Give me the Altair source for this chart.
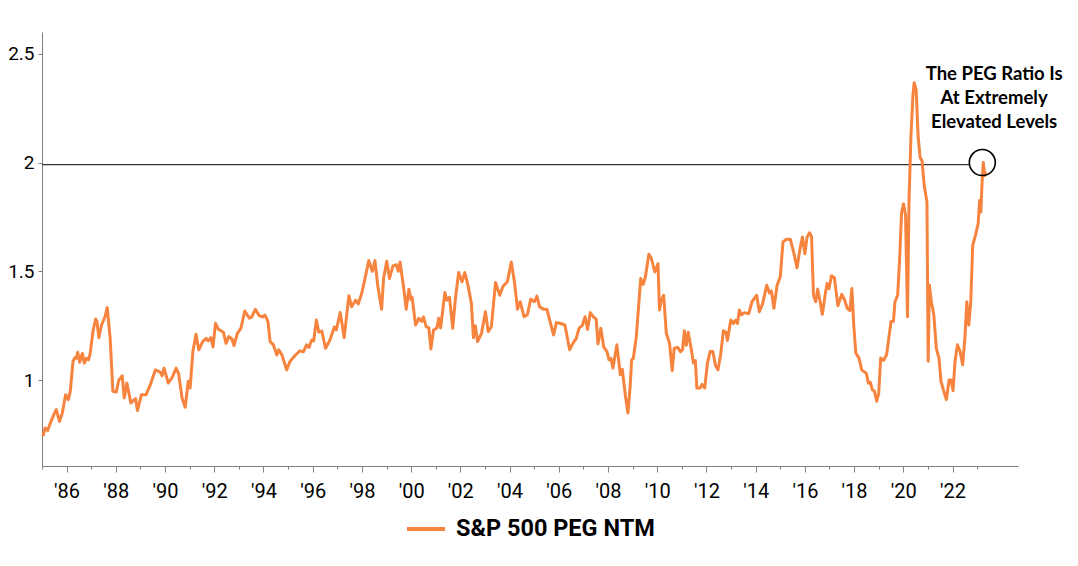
import altair as alt
import pandas as pd

# Fractional year of each reading and S&P 500 PEG (NTM) value
YEARS = [
    1985.04, 1985.13, 1985.23, 1985.34, 1985.50, 1985.58, 1985.71, 1985.82, 1985.96, 1986.07,
    1986.15, 1986.26, 1986.34, 1986.40, 1986.45, 1986.53, 1986.64, 1986.72, 1986.80, 1986.89,
    1986.96, 1987.07, 1987.18, 1987.23, 1987.31, 1987.42, 1987.56, 1987.65, 1987.77, 1987.88,
    1988.02, 1988.12, 1988.26, 1988.34, 1988.45, 1988.61, 1988.80, 1988.88, 1989.04, 1989.23,
    1989.40, 1989.61, 1989.80, 1989.88, 1989.96, 1990.13, 1990.29, 1990.45, 1990.55, 1990.69,
    1990.82, 1990.94, 1991.02, 1991.13, 1991.26, 1991.37, 1991.53, 1991.67, 1991.75, 1991.86,
    1991.95, 1992.05, 1992.16, 1992.37, 1992.48, 1992.59, 1992.72, 1992.80, 1992.94, 1993.08,
    1993.24, 1993.43, 1993.52, 1993.67, 1993.83, 1993.96, 1994.06, 1994.18, 1994.27, 1994.40,
    1994.54, 1994.62, 1994.75, 1994.94, 1995.08, 1995.28, 1995.48, 1995.62, 1995.75, 1995.85,
    1995.96, 1996.04, 1996.15, 1996.25, 1996.37, 1996.52, 1996.70, 1996.88, 1996.96, 1997.12,
    1997.28, 1997.47, 1997.58, 1997.74, 1997.85, 1997.99, 1998.12, 1998.28, 1998.42, 1998.53,
    1998.64, 1998.80, 1998.88, 1999.01, 1999.12, 1999.26, 1999.40, 1999.48, 1999.55, 1999.69,
    1999.80, 1999.91, 1999.99, 2000.04, 2000.18, 2000.31, 2000.42, 2000.50, 2000.61, 2000.72,
    2000.80, 2000.91, 2001.05, 2001.12, 2001.20, 2001.37, 2001.45, 2001.56, 2001.69, 2001.80,
    2001.93, 2002.07, 2002.18, 2002.31, 2002.45, 2002.53, 2002.61, 2002.70, 2002.86, 2003.02,
    2003.13, 2003.26, 2003.43, 2003.60, 2003.73, 2003.91, 2004.07, 2004.20, 2004.32, 2004.43,
    2004.59, 2004.72, 2004.86, 2005.01, 2005.11, 2005.22, 2005.39, 2005.52, 2005.63, 2005.79,
    2005.90, 2006.07, 2006.25, 2006.44, 2006.58, 2006.71, 2006.82, 2006.95, 2007.07, 2007.17,
    2007.28, 2007.41, 2007.52, 2007.59, 2007.71, 2007.82, 2007.96, 2008.04, 2008.12, 2008.20,
    2008.36, 2008.50, 2008.58, 2008.71, 2008.81, 2008.90, 2008.96, 2009.03, 2009.15, 2009.33,
    2009.43, 2009.52, 2009.66, 2009.76, 2009.90, 2010.03, 2010.09, 2010.17, 2010.26, 2010.37,
    2010.50, 2010.61, 2010.69, 2010.83, 2010.95, 2011.03, 2011.10, 2011.18, 2011.26, 2011.40,
    2011.47, 2011.55, 2011.61, 2011.74, 2011.82, 2011.93, 2012.04, 2012.15, 2012.26, 2012.37,
    2012.47, 2012.58, 2012.69, 2012.80, 2012.85, 2012.99, 2013.10, 2013.18, 2013.26, 2013.34,
    2013.42, 2013.54, 2013.72, 2013.85, 2014.04, 2014.15, 2014.28, 2014.45, 2014.56, 2014.64,
    2014.74, 2014.87, 2015.00, 2015.11, 2015.25, 2015.41, 2015.54, 2015.68, 2015.79, 2015.90,
    2016.00, 2016.09, 2016.19, 2016.27, 2016.35, 2016.44, 2016.52, 2016.62, 2016.71, 2016.82,
    2016.90, 2016.98, 2017.08, 2017.20, 2017.34, 2017.50, 2017.61, 2017.72, 2017.83, 2017.91,
    2017.99, 2018.07, 2018.20, 2018.31, 2018.39, 2018.50, 2018.58, 2018.66, 2018.74, 2018.82,
    2018.92, 2019.00, 2019.08, 2019.19, 2019.32, 2019.50, 2019.60, 2019.66, 2019.77, 2019.85,
    2019.93, 2020.01, 2020.09, 2020.17, 2020.23, 2020.31, 2020.39, 2020.44, 2020.52, 2020.60,
    2020.68, 2020.76, 2020.85, 2020.96, 2021.01, 2021.06, 2021.14, 2021.24, 2021.34, 2021.45,
    2021.53, 2021.64, 2021.75, 2021.86, 2021.94, 2022.02, 2022.10, 2022.20, 2022.31, 2022.41,
    2022.50, 2022.58, 2022.66, 2022.74, 2022.82, 2022.93, 2023.04, 2023.10, 2023.15, 2023.20,
    2023.25, 2023.31, 2023.36,
]
PEG = [
    0.742, 0.780, 0.768, 0.803, 0.846, 0.864, 0.810, 0.846, 0.933, 0.910,
    0.948, 1.086, 1.104, 1.100, 1.128, 1.082, 1.122, 1.078, 1.100, 1.093,
    1.124, 1.223, 1.281, 1.270, 1.195, 1.253, 1.291, 1.333, 1.192, 0.948,
    0.945, 1.000, 1.020, 0.918, 0.986, 0.895, 0.915, 0.860, 0.933, 0.933,
    0.978, 1.047, 1.037, 1.020, 1.055, 0.986, 1.012, 1.055, 1.030, 0.918,
    0.875, 0.994, 0.963, 1.131, 1.211, 1.139, 1.177, 1.192, 1.180, 1.195,
    1.152, 1.261, 1.235, 1.220, 1.169, 1.200, 1.189, 1.159, 1.215, 1.238,
    1.317, 1.284, 1.290, 1.325, 1.296, 1.290, 1.299, 1.270, 1.177, 1.162,
    1.116, 1.139, 1.116, 1.047, 1.086, 1.113, 1.134, 1.130, 1.162, 1.150,
    1.184, 1.180, 1.276, 1.220, 1.225, 1.146, 1.184, 1.244, 1.230, 1.311,
    1.195, 1.388, 1.337, 1.367, 1.350, 1.398, 1.464, 1.549, 1.500, 1.549,
    1.436, 1.326, 1.467, 1.546, 1.467, 1.525, 1.530, 1.500, 1.543, 1.429,
    1.326, 1.418, 1.370, 1.380, 1.253, 1.284, 1.270, 1.290, 1.246, 1.240,
    1.143, 1.230, 1.240, 1.284, 1.240, 1.403, 1.367, 1.380, 1.238, 1.375,
    1.494, 1.452, 1.494, 1.436, 1.352, 1.195, 1.250, 1.177, 1.215, 1.314,
    1.223, 1.245, 1.449, 1.390, 1.430, 1.452, 1.543, 1.450, 1.326, 1.360,
    1.291, 1.300, 1.372, 1.360, 1.386, 1.337, 1.325, 1.325, 1.276, 1.207,
    1.264, 1.260, 1.253, 1.139, 1.170, 1.192, 1.238, 1.250, 1.291, 1.233,
    1.310, 1.290, 1.280, 1.166, 1.238, 1.154, 1.130, 1.093, 1.100, 1.055,
    1.162, 1.024, 1.050, 0.925, 0.849, 0.971, 1.093, 1.100, 1.200, 1.467,
    1.440, 1.475, 1.578, 1.560, 1.497, 1.535, 1.322, 1.370, 1.390, 1.215,
    1.169, 1.044, 1.146, 1.150, 1.130, 1.140, 1.227, 1.160, 1.220, 1.130,
    1.078, 1.090, 0.963, 0.963, 0.980, 0.963, 1.078, 1.131, 1.131, 1.066,
    1.047, 1.120, 1.227, 1.220, 1.182, 1.276, 1.260, 1.275, 1.260, 1.322,
    1.300, 1.310, 1.305, 1.360, 1.390, 1.314, 1.350, 1.436, 1.400, 1.410,
    1.330, 1.436, 1.475, 1.635, 1.647, 1.647, 1.589, 1.516, 1.596, 1.658,
    1.581, 1.658, 1.677, 1.660, 1.390, 1.360, 1.418, 1.360, 1.302, 1.390,
    1.444, 1.420, 1.479, 1.470, 1.342, 1.394, 1.370, 1.330, 1.320, 1.421,
    1.246, 1.124, 1.101, 1.047, 1.040, 1.030, 0.986, 0.990, 0.956, 0.950,
    0.903, 0.940, 1.101, 1.090, 1.116, 1.269, 1.270, 1.360, 1.390, 1.558,
    1.772, 1.810, 1.757, 1.291, 1.818, 2.123, 2.306, 2.367, 2.336, 2.123,
    2.024, 2.008, 1.894, 1.818, 1.086, 1.436, 1.360, 1.300, 1.146, 1.100,
    0.994, 0.950, 0.910, 1.000, 1.000, 0.951, 1.086, 1.162, 1.130, 1.070,
    1.190, 1.360, 1.253, 1.360, 1.619, 1.665, 1.718, 1.825, 1.772, 1.909,
    2.000, 1.940, 1.955,
]
SERIES = "S&P 500 PEG NTM"

MAJOR_YEARS = list(range(1986, 2023, 2))
MINOR_YEARS = list(range(1985, 2024, 2))
Y_TICKS = [1, 1.5, 2, 2.5]
X_DOMAIN = [1985.0, 2024.66]
Y_DOMAIN = [0.605, 2.6]

REF_LEVEL = [1.99]
REF_SPAN = [1985.0, 2022.68]
CIRCLE_AT = [2023.21, 2.0]
NOTE_AT = [2023.69, 2.379]
NOTE_LINES = ["The PEG Ratio Is", "At Extremely", "Elevated Levels"]

ORANGE = "#F7843E"
AXIS_FONT = "Roboto"
GREY = "#808080"

df = pd.DataFrame({"year": YEARS, "peg": PEG, "series": SERIES})

x_scale = alt.Scale(domain=X_DOMAIN, nice=False, zero=False)
y_scale = alt.Scale(domain=Y_DOMAIN, nice=False, zero=False)

x_major = alt.Axis(
    orient="bottom",
    values=MAJOR_YEARS,
    labelExpr="\"'\" + substring(toString(datum.value), 2, 4)",
    tickSize=6,
    labelPadding=9,
    labelFont=AXIS_FONT,
    labelFontSize=20,
    labelColor="#000000",
    labelOverlap=False,
    labelFlush=False,
    domainColor=GREY,
    tickColor=GREY,
    grid=False,
    title=None,
)
x_minor = alt.Axis(
    orient="bottom",
    values=MINOR_YEARS,
    labels=False,
    tickSize=3,
    domain=False,
    tickColor=GREY,
    grid=False,
    title=None,
)
y_axis = alt.Axis(
    orient="left",
    values=Y_TICKS,
    format="~g",
    tickSize=4,
    labelPadding=4,
    labelFont=AXIS_FONT,
    labelFontSize=19,
    labelColor="#000000",
    domainColor=GREY,
    tickColor=GREY,
    grid=False,
    title=None,
)

line = alt.Chart(df).mark_line(strokeWidth=3, strokeJoin="round").encode(
    x=alt.X("year:Q", scale=x_scale, axis=x_major),
    y=alt.Y("peg:Q", scale=y_scale, axis=y_axis),
    color=alt.Color(
        "series:N",
        scale=alt.Scale(range=[ORANGE]),
        legend=alt.Legend(
            title=None,
            orient="none",
            legendX=363,
            legendY=476,
            symbolType="stroke",
            symbolStrokeWidth=4,
            symbolSize=1444,
            labelFont=AXIS_FONT,
            labelFontSize=23.5,
            labelFontWeight="bold",
            labelColor="#000000",
            labelOffset=9,
            labelLimit=0,
        ),
    ),
)

ref_df = pd.DataFrame({"x": [REF_SPAN[0]], "x2": [REF_SPAN[1]], "y": REF_LEVEL})
ref = alt.Chart(ref_df).mark_rule(color="#333333", strokeWidth=1.2).encode(
    x=alt.X("x:Q", scale=x_scale, axis=x_minor),
    x2="x2:Q",
    y=alt.Y("y:Q", scale=y_scale, axis=y_axis),
)

circ_df = pd.DataFrame({"x": [CIRCLE_AT[0]], "y": [CIRCLE_AT[1]]})
circle = alt.Chart(circ_df).mark_point(
    shape="circle", size=676, filled=False, color="#000000", strokeWidth=1.6, opacity=1
).encode(
    x=alt.X("x:Q", scale=x_scale, axis=None),
    y=alt.Y("y:Q", scale=y_scale, axis=y_axis),
)

note_df = pd.DataFrame({"x": [NOTE_AT[0]], "y": [NOTE_AT[1]], "t": ["\n".join(NOTE_LINES)]})
note = alt.Chart(note_df).mark_text(
    font="Lato", fontSize=18.5, fontWeight="bold", color="#000000",
    align="center", baseline="alphabetic", lineBreak="\n", lineHeight=24,
).encode(
    x=alt.X("x:Q", scale=x_scale, axis=None),
    y=alt.Y("y:Q", scale=y_scale, axis=y_axis),
    text="t:N",
)

chart = alt.layer(ref, line, circle, note).resolve_axis(x="independent").properties(
    width=976,
    height=434,
    background="#ffffff",
    autosize=alt.AutoSizeParams(type="none"),
    padding={"left": 34, "top": 24, "right": 50, "bottom": 90},
).configure_view(stroke=None)

chart.save("out.html", embed_options={"renderer": "svg", "actions": False})
